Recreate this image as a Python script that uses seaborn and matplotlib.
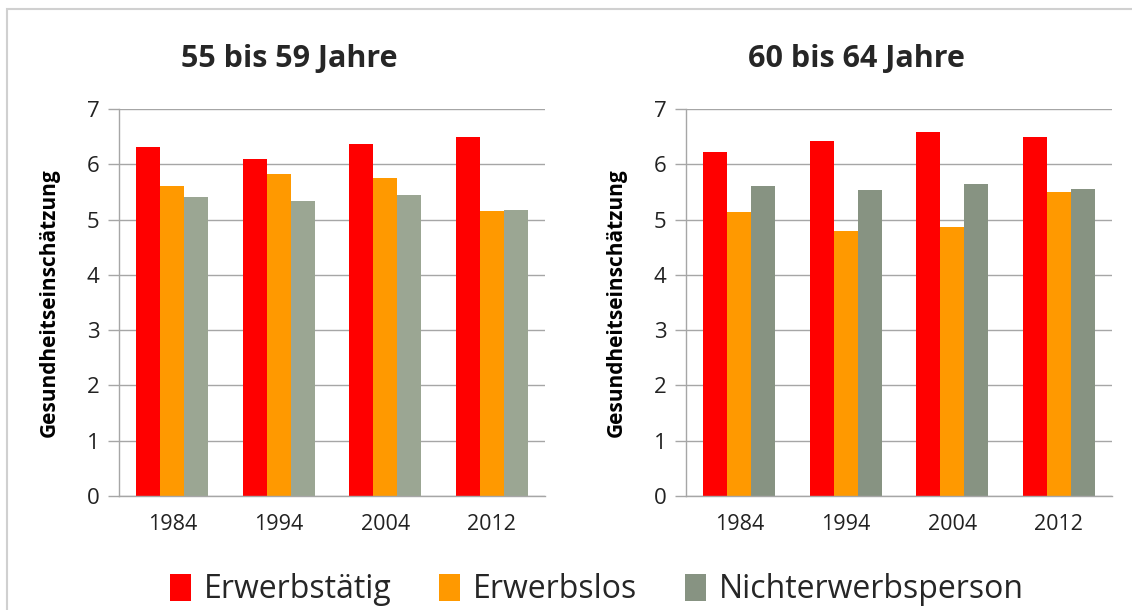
import numpy as np
import pandas as pd
import matplotlib.pyplot as plt
import seaborn as sns
from matplotlib.patches import Rectangle, Patch

# ── Daten ───────────────────────────────────────────────────────────────────
jahre = ['1984', '1994', '2004', '2012']
gruppen = ['Erwerbstätig', 'Erwerbslos', 'Nichterwerbsperson']

# 55 bis 59 Jahre
erwerbstaetig_55 = [6.32, 6.10, 6.36, 6.49]
erwerbslos_55 = [5.60, 5.83, 5.76, 5.15]
nichterwerb_55 = [5.41, 5.34, 5.45, 5.18]

# 60 bis 64 Jahre
erwerbstaetig_60 = [6.23, 6.43, 6.59, 6.49]
erwerbslos_60 = [5.14, 4.79, 4.86, 5.50]
nichterwerb_60 = [5.60, 5.53, 5.64, 5.55]

titel = ['55 bis 59 Jahre', '60 bis 64 Jahre']
ylabel = 'Gesundheitseinschätzung'

farben_55 = ['#ff0000', '#ff9900', '#9ba693']
farben_60 = ['#ff0000', '#ff9900', '#879382']


def long_df(a, b, c):
    rows = []
    for g, vals in zip(gruppen, [a, b, c]):
        for j, v in zip(jahre, vals):
            rows.append({'Jahr': j, 'Gruppe': g, 'Wert': v})
    return pd.DataFrame(rows)


df_55 = long_df(erwerbstaetig_55, erwerbslos_55, nichterwerb_55)
df_60 = long_df(erwerbstaetig_60, erwerbslos_60, nichterwerb_60)

# ── Plot ────────────────────────────────────────────────────────────────────
sns.set_theme(style='white')
plt.rcParams['font.family'] = ['Open Sans', 'DejaVu Sans']

fig = plt.figure(figsize=(11.32, 6.10), dpi=100)
W, H = 1132, 610
ax1 = fig.add_axes([119 / W, 1 - 496 / H, 426 / W, 387 / H])
ax2 = fig.add_axes([686 / W, 1 - 496 / H, 426 / W, 387 / H])

grid_c = '#a6a6a6'
for ax, df, pal, t in [(ax1, df_55, farben_55, titel[0]),
                       (ax2, df_60, farben_60, titel[1])]:
    ax.set_axisbelow(True)
    sns.barplot(data=df, x='Jahr', y='Wert', hue='Gruppe', order=jahre,
                hue_order=gruppen, palette=pal, width=0.68, saturation=1,
                edgecolor='none', legend=False, ax=ax)
    ax.set_ylim(0, 7)
    ax.set_xlim(-0.5, 3.5)
    ax.set_yticks(range(0, 8))
    ax.yaxis.grid(True, color=grid_c, linewidth=1.0)
    for s in ['top', 'right']:
        ax.spines[s].set_visible(False)
    for s in ['left', 'bottom']:
        ax.spines[s].set_color(grid_c)
        ax.spines[s].set_linewidth(1.0)
    ax.set_xticks(np.arange(-0.5, 4, 1), minor=True)
    ax.tick_params(axis='x', which='major', length=0, pad=13, labelsize=15.5,
                   labelcolor='#222222')
    ax.tick_params(axis='x', which='minor', length=8, color=grid_c, width=1.0)
    ax.tick_params(axis='y', length=8, color=grid_c, width=1.0, pad=6,
                   labelsize=16, labelcolor='#222222', left=True)
    ax.set_xlabel('')
    ax.set_ylabel(ylabel, fontsize=15, fontweight='bold', color='black')
    ax.yaxis.set_label_coords(-0.14, 0.5)
    ax.set_title(t, fontsize=22, fontweight='bold', x=0.40, y=1.0, pad=30)

# äußerer Rahmen
fig.patches.append(Rectangle((7 / W, -0.1), 1.2, 1 - 9 / H + 0.1,
                             transform=fig.transFigure, fill=False,
                             edgecolor='#d0d0d0', linewidth=1.5))

handles = [Patch(facecolor=c, edgecolor='none') for c in farben_60]
fig.legend(handles, gruppen, loc='center', bbox_to_anchor=(597 / W, 1 - 590 / H),
           ncol=3, frameon=False, fontsize=23, handlelength=0.65,
           handleheight=0.9, handletextpad=0.4, columnspacing=1.5)

fig.savefig('out.png', dpi=100)
